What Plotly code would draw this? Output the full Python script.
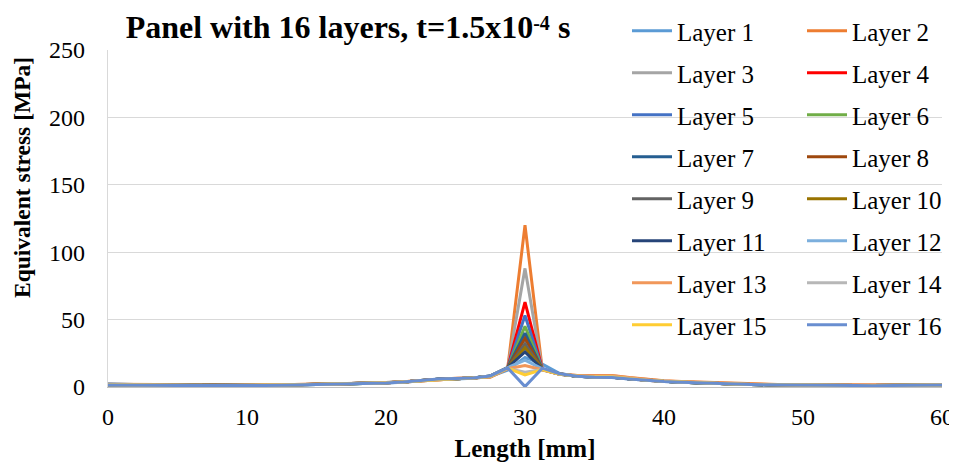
import plotly.graph_objects as go

length_mm = [0, 1.25, 2.5, 3.75, 5, 6.25, 7.5, 8.75, 10, 11.25, 12.5, 13.75, 15, 16.25,
             17.5, 18.75, 20, 21.25, 22.5, 23.75, 25, 26.25, 27.5, 28.75, 30, 31.25,
             32.5, 33.75, 35, 36.25, 37.5, 38.75, 40, 41.25, 42.5, 43.75, 45, 46.25,
             47.5, 48.75, 50, 51.25, 52.5, 53.75, 55, 56.25, 57.5, 58.75, 60]

layer_1 = [2.4, 1.8, 1.6, 1.5, 1.4, 1.2, 1.1, 1.1, 1.2, 1.3, 1.4, 1.6, 1.8, 2.0, 2.3, 2.6, 3.0, 3.6, 4.6, 5.6, 6.0, 6.5, 7.8, 12.5, 22.0, 17.0, 10.0, 8.0, 7.4, 7.2, 6.0, 4.9, 4.1, 3.5, 3.0, 2.5, 2.1, 1.8, 1.6, 1.5, 1.4, 1.3, 1.2, 1.2, 1.1, 1.1, 1.2, 1.3, 1.6]
layer_2 = [2.0, 1.9, 1.8, 1.8, 1.7, 1.4, 1.2, 1.2, 1.3, 1.4, 1.6, 1.8, 2.0, 2.2, 2.5, 2.8, 3.2, 3.9, 4.9, 5.9, 6.4, 6.8, 7.2, 13.5, 120.0, 12.5, 9.5, 8.6, 8.4, 8.6, 7.0, 5.6, 4.6, 4.0, 3.6, 3.0, 2.5, 2.1, 1.9, 1.7, 1.6, 1.5, 1.4, 1.3, 1.2, 1.2, 1.3, 1.4, 1.7]
layer_3 = [1.8, 1.6, 1.5, 1.4, 1.3, 1.2, 1.1, 1.1, 1.2, 1.3, 1.5, 1.7, 1.9, 2.1, 2.4, 2.7, 3.1, 3.8, 4.7, 5.7, 6.2, 6.6, 7.6, 13.8, 88.0, 12.8, 9.4, 8.2, 7.6, 7.6, 6.3, 5.1, 4.3, 3.7, 3.1, 2.6, 2.2, 1.9, 1.7, 1.5, 1.4, 1.3, 1.2, 1.2, 1.1, 1.1, 1.2, 1.3, 1.5]
layer_4 = [1.7, 1.5, 1.4, 1.4, 1.3, 1.2, 1.1, 1.1, 1.2, 1.3, 1.5, 1.7, 1.9, 2.1, 2.4, 2.7, 3.1, 3.8, 4.7, 5.7, 6.2, 6.6, 7.8, 14.0, 63.0, 13.0, 9.5, 8.1, 7.5, 7.5, 6.2, 5.0, 4.2, 3.6, 3.1, 2.6, 2.2, 1.9, 1.7, 1.5, 1.4, 1.3, 1.2, 1.2, 1.1, 1.1, 1.2, 1.3, 1.5]
layer_5 = [1.7, 1.5, 1.4, 1.3, 1.3, 1.2, 1.1, 1.1, 1.2, 1.3, 1.5, 1.6, 1.8, 2.1, 2.4, 2.7, 3.1, 3.8, 4.8, 5.8, 6.2, 6.6, 7.9, 14.0, 53.0, 13.0, 9.5, 8.0, 7.5, 7.4, 6.2, 5.0, 4.2, 3.6, 3.1, 2.6, 2.2, 1.9, 1.7, 1.5, 1.4, 1.3, 1.2, 1.2, 1.1, 1.1, 1.2, 1.3, 1.5]
layer_6 = [1.6, 1.5, 1.4, 1.3, 1.3, 1.2, 1.1, 1.1, 1.2, 1.3, 1.4, 1.6, 1.8, 2.0, 2.3, 2.7, 3.1, 3.8, 4.8, 5.8, 6.2, 6.6, 7.9, 14.1, 45.0, 13.1, 9.6, 8.0, 7.4, 7.4, 6.2, 5.0, 4.2, 3.6, 3.1, 2.6, 2.2, 1.9, 1.7, 1.5, 1.4, 1.3, 1.2, 1.2, 1.1, 1.1, 1.2, 1.3, 1.5]
layer_7 = [1.6, 1.5, 1.4, 1.3, 1.2, 1.2, 1.1, 1.1, 1.2, 1.3, 1.4, 1.6, 1.8, 2.0, 2.3, 2.7, 3.1, 3.8, 4.8, 5.8, 6.2, 6.6, 8.0, 14.2, 40.0, 13.1, 9.6, 8.0, 7.4, 7.3, 6.2, 5.0, 4.2, 3.6, 3.1, 2.6, 2.2, 1.9, 1.7, 1.5, 1.4, 1.3, 1.2, 1.2, 1.1, 1.1, 1.2, 1.3, 1.5]
layer_8 = [1.6, 1.4, 1.4, 1.3, 1.2, 1.2, 1.1, 1.1, 1.2, 1.3, 1.4, 1.6, 1.8, 2.0, 2.3, 2.7, 3.1, 3.8, 4.8, 5.8, 6.2, 6.7, 8.0, 14.2, 36.0, 13.2, 9.6, 8.0, 7.4, 7.3, 6.1, 5.0, 4.2, 3.6, 3.1, 2.6, 2.2, 1.9, 1.7, 1.5, 1.4, 1.3, 1.2, 1.2, 1.1, 1.1, 1.2, 1.3, 1.5]
layer_9 = [1.6, 1.4, 1.3, 1.3, 1.2, 1.2, 1.1, 1.1, 1.2, 1.3, 1.4, 1.6, 1.8, 2.0, 2.3, 2.7, 3.1, 3.8, 4.8, 5.8, 6.2, 6.7, 8.0, 14.3, 32.0, 13.2, 9.6, 8.0, 7.4, 7.3, 6.1, 5.0, 4.2, 3.6, 3.1, 2.6, 2.2, 1.9, 1.7, 1.5, 1.4, 1.3, 1.2, 1.2, 1.1, 1.1, 1.2, 1.3, 1.5]
layer_10 = [1.6, 1.4, 1.3, 1.3, 1.2, 1.2, 1.1, 1.1, 1.2, 1.3, 1.4, 1.6, 1.8, 2.0, 2.3, 2.7, 3.1, 3.8, 4.8, 5.8, 6.2, 6.7, 8.1, 14.3, 29.0, 13.3, 9.6, 8.0, 7.4, 7.2, 6.1, 5.0, 4.2, 3.6, 3.1, 2.6, 2.2, 1.9, 1.7, 1.5, 1.4, 1.3, 1.2, 1.2, 1.1, 1.1, 1.2, 1.3, 1.5]
layer_11 = [1.6, 1.4, 1.3, 1.3, 1.2, 1.2, 1.1, 1.1, 1.2, 1.3, 1.4, 1.6, 1.8, 2.0, 2.3, 2.7, 3.1, 3.8, 4.8, 5.8, 6.2, 6.7, 8.1, 14.4, 26.0, 13.3, 9.7, 8.0, 7.4, 7.2, 6.1, 5.0, 4.2, 3.6, 3.1, 2.6, 2.2, 1.9, 1.7, 1.5, 1.4, 1.3, 1.2, 1.2, 1.1, 1.1, 1.2, 1.3, 1.5]
layer_12 = [1.7, 1.5, 1.4, 1.3, 1.2, 1.2, 1.1, 1.1, 1.2, 1.3, 1.4, 1.6, 1.8, 2.0, 2.3, 2.7, 3.1, 3.8, 4.8, 5.8, 6.2, 6.7, 8.1, 14.4, 20.0, 13.4, 9.7, 8.0, 7.3, 7.2, 6.1, 5.0, 4.2, 3.6, 3.1, 2.6, 2.2, 1.9, 1.7, 1.5, 1.4, 1.3, 1.2, 1.2, 1.1, 1.1, 1.2, 1.3, 1.5]
layer_13 = [1.9, 1.7, 1.6, 1.6, 1.5, 1.3, 1.2, 1.2, 1.3, 1.4, 1.5, 1.7, 1.9, 2.1, 2.4, 2.8, 3.2, 3.9, 4.8, 5.8, 6.3, 6.7, 7.6, 13.6, 16.0, 12.8, 9.6, 8.5, 8.2, 8.3, 6.8, 5.4, 4.5, 3.9, 3.4, 2.9, 2.4, 2.0, 1.8, 1.6, 1.5, 1.4, 1.3, 1.3, 1.2, 1.2, 1.3, 1.4, 1.6]
layer_14 = [1.7, 1.5, 1.4, 1.4, 1.3, 1.2, 1.1, 1.1, 1.2, 1.3, 1.5, 1.7, 1.9, 2.1, 2.4, 2.7, 3.1, 3.8, 4.7, 5.7, 6.2, 6.6, 7.7, 13.8, 11.0, 12.9, 9.5, 8.2, 7.6, 7.6, 6.3, 5.1, 4.3, 3.7, 3.1, 2.6, 2.2, 1.9, 1.7, 1.5, 1.4, 1.3, 1.2, 1.2, 1.1, 1.1, 1.2, 1.3, 1.5]
layer_15 = [1.7, 1.5, 1.4, 1.4, 1.3, 1.2, 1.1, 1.1, 1.2, 1.3, 1.5, 1.7, 1.9, 2.1, 2.4, 2.7, 3.1, 3.8, 4.7, 5.7, 6.2, 6.6, 7.8, 14.0, 9.0, 13.0, 9.5, 8.1, 7.5, 7.5, 6.2, 5.0, 4.2, 3.6, 3.1, 2.6, 2.2, 1.9, 1.7, 1.5, 1.4, 1.3, 1.2, 1.2, 1.1, 1.1, 1.2, 1.3, 1.5]
layer_16 = [1.5, 1.3, 1.3, 1.2, 1.2, 1.1, 1.0, 1.0, 1.1, 1.2, 1.3, 1.5, 1.7, 1.9, 2.2, 2.6, 3.0, 3.7, 4.7, 5.9, 6.3, 6.7, 8.2, 14.2, 0.3, 14.0, 9.8, 8.0, 7.2, 7.0, 6.0, 4.9, 4.1, 3.5, 3.0, 2.5, 2.1, 1.8, 1.6, 1.4, 1.3, 1.2, 1.1, 1.1, 1.0, 1.0, 1.1, 1.2, 1.4]

layer_names = ["Layer 1", "Layer 2", "Layer 3", "Layer 4", "Layer 5", "Layer 6", "Layer 7", "Layer 8",
               "Layer 9", "Layer 10", "Layer 11", "Layer 12", "Layer 13", "Layer 14", "Layer 15", "Layer 16"]
layer_values = [layer_1, layer_2, layer_3, layer_4, layer_5, layer_6, layer_7, layer_8,
                layer_9, layer_10, layer_11, layer_12, layer_13, layer_14, layer_15, layer_16]
layer_colors = ["#5B9BD5", "#ED7D31", "#A5A5A5", "#FF0000", "#4472C4", "#70AD47", "#255E91", "#9E480E",
                "#636363", "#997300", "#264478", "#7CAFDD", "#F1975A", "#B7B7B7", "#FFCD33", "#698ED0"]

x_ticks = [0, 10, 20, 30, 40, 50, 60]
y_ticks = [0, 50, 100, 150, 200, 250]

FONT = "Times New Roman, Liberation Serif, Tinos, DejaVu Serif, serif"

fig = go.Figure()
for i, (name, vals, col) in enumerate(zip(layer_names, layer_values, layer_colors)):
    fig.add_trace(go.Scatter(
        x=length_mm, y=vals, name=name, mode="lines",
        line=dict(color=col, width=3),
        legend="legend" if i % 2 == 0 else "legend2",
        legendgroup=name,
    ))

# page body has an 8px default margin, so the figure is offset by (8, 8)
OFF = 8
W, H = 957 - OFF, 470 - OFF
L, R, T, B = 108 - OFF, 15, 50 - OFF, 83
pw = W - L - R
ph = H - T - B

def sx(px):  # screen px -> paper x
    return (px - OFF - L) / pw

def sy(py):  # screen py -> paper y
    return (H - B - (py - OFF)) / ph

legend_common = dict(
    bgcolor="rgba(0,0,0,0)",
    font=dict(family=FONT, size=25, color="#000000"),
    yanchor="top", xanchor="left",
    tracegroupgap=6.5,
    traceorder="grouped",
    itemwidth=40,
    maxheight=460,
)

fig.update_layout(
    width=W, height=H,
    font=dict(family=FONT),
    margin=dict(l=L, r=R, t=T, b=B, autoexpand=False),
    paper_bgcolor="white", plot_bgcolor="white",
    title=dict(
        text="<b>Panel with 16 layers, t=1.5x10<span style='font-size:20px;baseline-shift:8px'>-4</span> s</b>",
        font=dict(family=FONT, size=32, color="#000000"),
        x=(348 - OFF) / W, xanchor="center", xref="container",
        y=1 - (27 - OFF) / H, yanchor="middle", yref="container",
    ),
    xaxis=dict(
        range=[0, 60], tickvals=x_ticks, showgrid=False, zeroline=False,
        showline=True, linecolor="#BFBFBF", linewidth=1.3, automargin=False,
        ticks="", tickfont=dict(family=FONT, size=24, color="#000000"),
        ticklabelstandoff=8,
        title=dict(text="<b>Length [mm]</b>", font=dict(family=FONT, size=25, color="#000000"), standoff=10),
    ),
    yaxis=dict(
        range=[0, 250], tickvals=y_ticks, showgrid=True, gridcolor="#D9D9D9", gridwidth=1.3,
        zeroline=False, showline=True, linecolor="#D9D9D9", linewidth=1.3, automargin=False,
        ticks="", tickfont=dict(family=FONT, size=24, color="#000000"),
        ticklabelstandoff=17,
    ),
    annotations=[dict(
        text="<b>Equivalent stress [MPa]</b>", textangle=-90, showarrow=False,
        xref="paper", yref="paper", x=sx(22), y=sy(178),
        xanchor="center", yanchor="middle",
        font=dict(family=FONT, size=23.5, color="#000000"),
    )],
    legend=dict(x=sx(627), y=sy(8), **legend_common),
    legend2=dict(x=sx(802), y=sy(8), **legend_common),
    showlegend=True,
    shapes=[dict(
        type="rect", xref="paper", yref="paper", layer="between",
        x0=sx(612), x1=1.0, y0=0.1, y1=1.01,
        fillcolor="white", line=dict(width=0),
    )],
)

fig.write_html("out.html")
